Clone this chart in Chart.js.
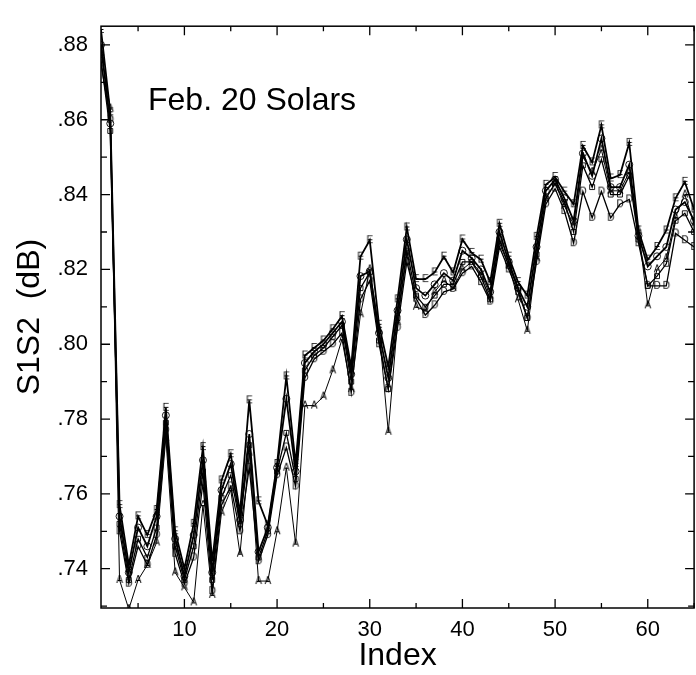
<!DOCTYPE html>
<html><head><meta charset="utf-8">
<script src="https://cdn.jsdelivr.net/npm/chart.js@4.4.0/dist/chart.umd.min.js"></script>
<style>html,body{margin:0;padding:0;background:#fff;overflow:hidden;width:696px;height:675px}</style>
</head><body>
<canvas id="c" width="700" height="675"></canvas>
<script>
const indexValues = [1,2,3,4,5,6,7,8,9,10,11,12,13,14,15,16,17,18,19,20,21,22,23,24,25,26,27,28,29,30,31,32,33,34,35,36,37,38,39,40,41,42,43,44,45,46,47,48,49,50,51,52,53,54,55,56,57,58,59,60,61,62,63,64,65];

const seriesE = [.884,.862,.757,.741,.754,.749,.7557,.783,.750,.740,
  .752,.7725,.742,.7636,.7706,.755,.785,.758,.7516,.768,
  .7914,.768,.797,.799,.801,.804,.8075,.794,.8234,.8278,
  .8052,.794,.812,.8312,.8174,.8174,.8192,.8234,.8192,.828,
  .8244,.8226,.8166,.8322,.8234,.8166,.813,.8287,.8426,.8447,
  .8408,.8374,.853,.8486,.8585,.8443,.8452,.8538,.8304,.8226,
  .826,.8304,.839,.8434,.836];

const seriesC = [.880,.859,.754,.739,.751,.746,.754,.781,.748,.738,
  .749,.769,.739,.761,.768,.753,.776,.7445,.751,.767,
  .7854,.766,.795,.798,.800,.803,.806,.792,.8182,.8195,
  .803,.791,.809,.828,.815,.813,.816,.819,.817,.825,
  .823,.820,.814,.830,.822,.815,.810,.826,.841,.844,
  .839,.833,.851,.845,.855,.842,.842,.848,.829,.8208,
  .8235,.826,.836,.838,.833];

const seriesB = [.876,.857,.752,.737,.748,.743,.751,.779,.746,.737,
  .746,.766,.737,.759,.765,.752,.773,.743,.750,.766,
  .7763,.764,.793,.797,.799,.802,.805,.790,.815,.8192,
  .801,.788,.807,.825,.813,.810,.813,.816,.816,.822,
  .822,.818,.812,.828,.821,.815,.807,.824,.839,.843,
  .838,.830,.8478,.842,.8494,.840,.840,.845,.828,.8156,
  .8182,.8215,.833,.835,.830];

const seriesD = [.875,.860,.750,.736,.746,.741,.749,.777,.744,.736,
  .743,.763,.734,.757,.762,.750,.767,.742,.749,.765,
  .7724,.762,.791,.796,.798,.800,.803,.787,.812,.817,
  .800,.788,.8044,.822,.8122,.8078,.8104,.814,.8148,.819,
  .8208,.8166,.8114,.826,.820,.814,.807,.822,.8374,.8416,
  .8356,.827,.8408,.8338,.8408,.8338,.8374,.8387,.827,.8156,
  .8156,.8156,.8296,.8278,.826];

const seriesA = [.878,.863,.737,.7292,.737,.741,.747,.775,.739,.735,
  .731,.757,.733,.755,.761,.744,.771,.7367,.7367,.750,
  .767,.7467,.7836,.7836,.786,.793,.8013,.788,.808,.820,
  .804,.7766,.806,.824,.810,.809,.814,.817,.815,.820,
  .822,.819,.813,.827,.821,.812,.8036,.823,.839,.843,
  .837,.832,.850,.846,.852,.841,.841,.846,.8304,.8104,
  .820,.823,.834,.840,.832];

const xMajorTicks = [10,20,30,40,50,60];
const xMinorTicks = [5,15,25,35,45,55,65];
const yMajorTicks = [.74,.76,.78,.80,.82,.84,.86,.88];
const yMinorTicks = [.73,.75,.77,.79,.81,.83,.85,.87];

const FONT = '"Liberation Sans", Arial, Helvetica, sans-serif';

function letterMarker(ch){
  const c = document.createElement('canvas');
  c.width = 12; c.height = 12;
  const g = c.getContext('2d');
  g.font = '10px ' + FONT;
  g.textAlign = 'center'; g.textBaseline = 'middle';
  g.fillStyle = '#000';
  g.fillText(ch, 6, 6.5);
  return c;
}

function pts(arr){ return indexValues.map((x,i)=>({x:x, y:arr[i]})); }

function ds(label, arr, style, width, radius){
  return {label, data: pts(arr), borderColor:'#000', borderWidth: width,
    pointStyle: style, pointRadius: radius, pointBorderColor:'#000',
    pointBorderWidth: 0.9, pointBackgroundColor:'rgba(0,0,0,0)', tension:0, fill:false};
}

const frame = {
  id:'frame',
  afterDraw(chart){
    const {ctx, chartArea:a, scales:{x,y}} = chart;
    ctx.save();
    ctx.strokeStyle = '#000';
    ctx.lineWidth = 1.5;
    ctx.strokeRect(a.left, a.top, a.right-a.left, a.bottom-a.top);
    ctx.lineWidth = 1.3;
    ctx.beginPath();
    const xt = (list, len) => list.forEach(v => {
      const px = x.getPixelForValue(v);
      ctx.moveTo(px, a.bottom); ctx.lineTo(px, a.bottom-len);
      ctx.moveTo(px, a.top); ctx.lineTo(px, a.top+len);
    });
    const yt = (list, len) => list.forEach(v => {
      const py = y.getPixelForValue(v);
      ctx.moveTo(a.left, py); ctx.lineTo(a.left+len, py);
      ctx.moveTo(a.right, py); ctx.lineTo(a.right-len, py);
    });
    xt(xMajorTicks, 9); xt(xMinorTicks, 5);
    yt(yMajorTicks, 9); yt(yMinorTicks, 6);
    ctx.stroke();
    ctx.fillStyle = '#000';
    ctx.font = '32px ' + FONT;
    ctx.textBaseline = 'alphabetic';
    ctx.textAlign = 'left';
    ctx.fillText('Feb. 20 Solars', 148, 110);
    ctx.restore();
  }
};

new Chart(document.getElementById('c'), {
  type:'line',
  data:{ datasets:[
    ds('E', seriesE, letterMarker('E'), 1.8, 5),
    ds('C', seriesC, 'circle', 1.8, 3.5),
    ds('B', seriesB, 'rect', 1.3, 3.5),
    ds('D', seriesD, letterMarker('D'), 1.3, 5),
    ds('A', seriesA, letterMarker('A'), 1.0, 5)
  ]},
  options:{
    responsive:false, animation:false,
    layout:{padding:{top:10, right:2, left:0, bottom:0}},
    plugins:{legend:{display:false}, tooltip:{enabled:false}},
    scales:{
      x:{type:'linear', min:1, max:65,
        afterBuildTicks: s => { s.ticks = xMajorTicks.map(v=>({value:v})); },
        afterFit: s => { s.height = 67; },
        grid:{display:false, drawTicks:false}, border:{display:false},
        ticks:{color:'#000', font:{family:FONT, size:22}, padding:9, maxRotation:0, autoSkip:false},
        title:{display:true, text:'Index', color:'#000', font:{family:FONT, size:32}, padding:{top:0, bottom:0}}
      },
      y:{type:'linear', min:.7295, max:.885,
        afterBuildTicks: s => { s.ticks = yMajorTicks.map(v=>({value:v})); },
        afterFit: s => { s.width = 101; },
        grid:{display:false, drawTicks:false}, border:{display:false},
        ticks:{color:'#000', font:{family:FONT, size:22}, padding:13, autoSkip:false,
          callback: v => v.toFixed(2).replace(/^0/, '')},
        title:{display:true, text:'S1S2  (dB)', color:'#000', font:{family:FONT, size:32}, padding:{top:11, bottom:0}}
      }
    }
  },
  plugins:[frame]
});
</script>
</body></html>
